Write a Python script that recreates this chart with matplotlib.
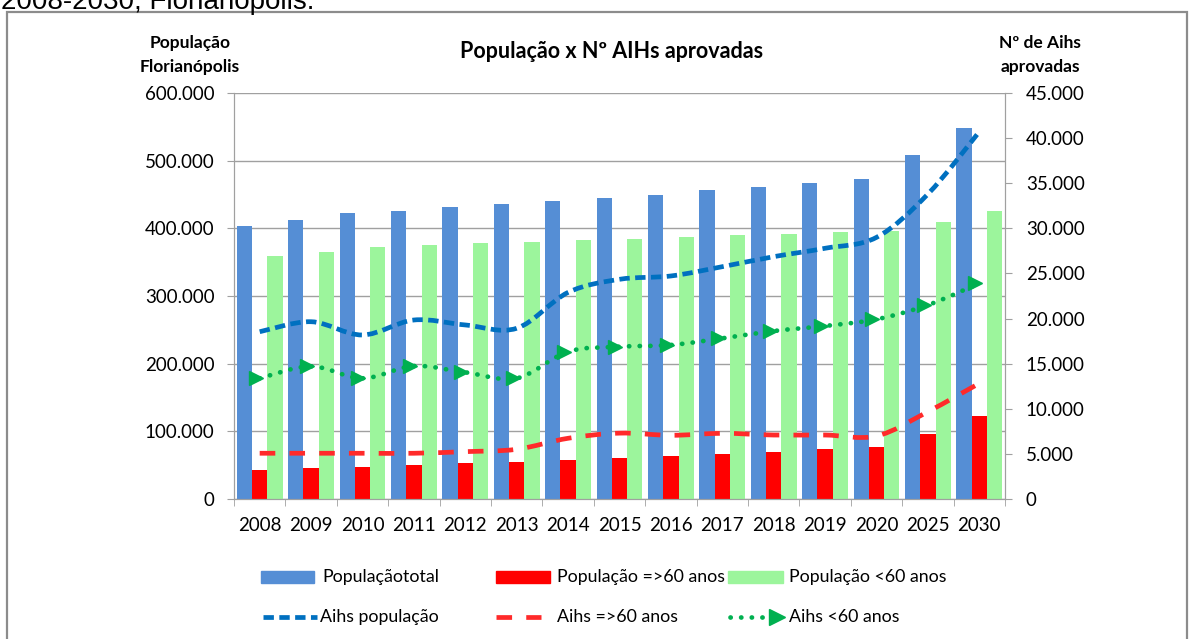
"""
População x Nº AIHs aprovadas - Florianópolis 2008-2030
barras = população (eixo esquerdo), linhas suavizadas = AIHs (eixo direito)
"""

import numpy as np
import matplotlib.pyplot as plt
from matplotlib.path import Path
from matplotlib.patches import PathPatch, Rectangle
from matplotlib.lines import Line2D
from matplotlib.ticker import FuncFormatter, MultipleLocator

plt.rcParams['font.family'] = ['Lato', 'DejaVu Sans']

# ============ 1. Dados ============
years = ['2008', '2009', '2010', '2011', '2012', '2013', '2014', '2015',
         '2016', '2017', '2018', '2019', '2020', '2025', '2030']

pop_total = [403400, 412000, 422000, 425600, 431000, 436000, 440000, 445000,
             449700, 456700, 461600, 466500, 473400, 508000, 549000]
pop_60plus = [42900, 46300, 47800, 49800, 53200, 55100, 58100, 60100,
              63500, 67000, 70000, 73400, 77300, 96000, 122000]
pop_under60 = [359000, 365500, 373000, 376000, 378000, 380000, 383000, 384000,
               386700, 389600, 391600, 394600, 396500, 410000, 426000]

aihs_total = [18540, 19650, 18180, 19840, 19290, 18920, 22900, 24350,
              24720, 25750, 26860, 27790, 29000, 33800, 40710]
aihs_60plus = [5070, 5070, 5070, 5070, 5250, 5510, 6730, 7300,
               7060, 7280, 7090, 7090, 6980, 9680, 12820]
aihs_under60 = [13380, 14700, 13380, 14740, 14040, 13380, 16330, 16880,
                17070, 17810, 18620, 19180, 19920, 21500, 23910]

C_BLUE_BAR = '#558ED5'
C_RED_BAR = '#FF0000'
C_GREEN_BAR = '#9CF59C'
C_BLUE_LINE = '#0070C0'
C_RED_LINE = '#FF2A2A'
C_GREEN_LINE = '#00B050'
C_GRID = '#A0A0A0'

# (estilo, capstyle)
LS_BLUE = ((0, (2.2, 1.15)), 'butt')
LS_RED = ((0, (3.3, 3.0)), 'butt')
LS_GREEN = ((0, (0.05, 2.2)), 'round')

W, H = 1189, 639


def fx(px):
    return px / W


def fy(py):
    return 1 - py / H


def smooth_path(x, y):
    """curva suave tipo Excel (Catmull-Rom -> Bezier)"""
    x = np.asarray(x, float)
    y = np.asarray(y, float)
    pts = np.column_stack([x, y])
    ext = np.vstack([pts[0], pts, pts[-1]])
    verts = [pts[0]]
    codes = [Path.MOVETO]
    for i in range(len(pts) - 1):
        p0, p1, p2, p3 = ext[i], ext[i + 1], ext[i + 2], ext[i + 3]
        c1 = p1 + (p2 - p0) / 6
        c2 = p2 - (p3 - p1) / 6
        verts += [c1, c2, p2]
        codes += [Path.CURVE4] * 3
    return Path(verts, codes)


# ============ 2. Figura ============
fig = plt.figure(figsize=(W / 100, H / 100), dpi=100)
ax = fig.add_axes([fx(234), fy(499), fx(1005) - fx(234), fy(93) - fy(499)])
ax2 = ax.twinx()

x = np.arange(len(years))
bw = 0.296
ax.bar(x - bw, pop_total, bw, color=C_BLUE_BAR, zorder=2)
ax.bar(x, pop_60plus, bw, color=C_RED_BAR, zorder=2)
ax.bar(x + bw, pop_under60, bw, color=C_GREEN_BAR, zorder=2)

ax.set_xlim(-0.5, len(years) - 0.5)
ax.set_ylim(0, 600000)
ax.yaxis.set_major_locator(MultipleLocator(100000))
ax.grid(axis='y', color=C_GRID, lw=1, zorder=0)
ax.set_axisbelow(True)

thousands = FuncFormatter(lambda v, p: f'{v:,.0f}'.replace(',', '.'))
ax.yaxis.set_major_formatter(thousands)

ax.set_xticks(x)
ax.set_xticklabels(years)
ax.set_xticks(np.arange(-0.5, len(years), 1), minor=True)
ax.tick_params(axis='x', which='major', length=0, pad=13, labelsize=13.5)
ax.tick_params(axis='x', which='minor', length=5, color=C_GRID)
ax.tick_params(axis='y', length=5, color=C_GRID, labelsize=13.5, pad=9)

# linhas das AIHs (eixo direito)
line_styles = [
    (aihs_total, C_BLUE_LINE, LS_BLUE),
    (aihs_60plus, C_RED_LINE, LS_RED),
    (aihs_under60, C_GREEN_LINE, LS_GREEN),
]
for vals, col, (ls, cap) in line_styles:
    patch = PathPatch(smooth_path(x, vals), fill=False, edgecolor=col,
                      lw=3.4, linestyle=ls, capstyle=cap, zorder=3)
    ax2.add_patch(patch)
ax2.plot(x - 0.08, aihs_under60, ls='none', marker='>', ms=10,
         color=C_GREEN_LINE, zorder=4)

ax2.set_ylim(0, 45000)
ax2.yaxis.set_major_locator(MultipleLocator(5000))
ax2.yaxis.set_major_formatter(thousands)
ax2.tick_params(axis='y', length=5, color=C_GRID, labelsize=13.5, pad=10)

for a in (ax, ax2):
    a.spines['top'].set_visible(False)
    for s in ('left', 'right', 'bottom'):
        a.spines[s].set_color(C_GRID)

# ============ 3. Textos ============
fig.text(fx(612), fy(52), 'População x Nº AIHs aprovadas', ha='center',
         va='center', fontsize=15.5, fontweight='bold')
fig.text(fx(190), fy(55), 'População\nFlorianópolis', ha='center',
         va='center', fontsize=12.5, fontweight='bold', linespacing=1.55)
fig.text(fx(1040), fy(55), 'Nº de Aihs\naprovadas', ha='center',
         va='center', fontsize=12.5, fontweight='bold', linespacing=1.55)

# texto cortado no topo (como no original)
fig.text(fx(1), fy(9), '2008-2030, Florianópolis.', ha='left',
         va='baseline', fontsize=20, family='Liberation Sans')

# moldura
fig.add_artist(Rectangle((fx(7), fy(700)), fx(1180), fy(12.5) - fy(700),
                         transform=fig.transFigure, fill=False,
                         edgecolor='#8C8C8C', lw=1.6))

# ============ 4. Legenda ============
row1, row2 = 577, 617
patch_h = fy(row1 - 6) - fy(row1 + 6)
for px0, pw, col in [(261, 53, C_BLUE_BAR), (496, 54, C_RED_BAR),
                     (728, 55, C_GREEN_BAR)]:
    fig.add_artist(Rectangle((fx(px0), fy(row1 + 6)), fx(pw), patch_h,
                             transform=fig.transFigure, color=col))

for px0, px1, col, (ls, cap) in [(263, 317, C_BLUE_LINE, LS_BLUE),
                                 (496, 541, C_RED_LINE, LS_RED),
                                 (730, 772, C_GREEN_LINE, LS_GREEN)]:
    fig.add_artist(Line2D([fx(px0), fx(px1)], [fy(row2)] * 2,
                          transform=fig.transFigure, color=col, lw=3.4,
                          ls=ls, dash_capstyle=cap))
fig.add_artist(Line2D([fx(777)], [fy(row2)], transform=fig.transFigure,
                      color=C_GREEN_LINE, marker='>', ms=11, ls='none'))

legend_texts = [
    (322, row1, 'Populaçãototal'),
    (557, row1, 'População =>60 anos'),
    (789, row1, 'População <60 anos'),
    (320, row2, 'Aihs população'),
    (557, row2, 'Aihs =>60 anos'),
    (789, row2, 'Aihs <60 anos'),
]
for tx, ty, label in legend_texts:
    fig.text(fx(tx), fy(ty), label, ha='left', va='center', fontsize=12.8)

plt.savefig('out.png', dpi=100)
